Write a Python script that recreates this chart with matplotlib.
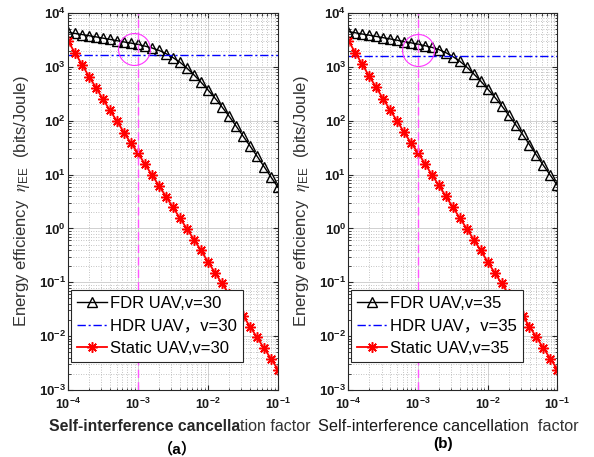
import numpy as np
import matplotlib
matplotlib.use("Agg")
import matplotlib.pyplot as plt
from matplotlib.ticker import LogLocator, NullFormatter

plt.rcParams['font.family'] = ['Liberation Sans', 'Noto Sans CJK SC']
plt.rcParams['mathtext.fontset'] = 'custom'
plt.rcParams['mathtext.rm'] = 'Liberation Sans'
plt.rcParams['mathtext.it'] = 'STIXGeneral:italic'
plt.rcParams['mathtext.bf'] = 'Liberation Sans:bold'

# 自干扰消除因子 (10^-4 ~ 10^-1, 每个数量级 10 个点)
beta = np.logspace(-4, -1, 31)

# v=30 的结果
fdr_v30 = [4365, 4170, 3980, 3785, 3600, 3410, 3235, 3060, 2900, 2755,
           2605, 2425, 2240, 2020, 1760, 1480, 1215, 944, 708, 519,
           372, 263, 180, 122, 80, 52, 34, 22, 14.1, 9.0, 5.8]
hdr_v30 = 1670
static_v30 = [3000, 1820, 1100, 660, 410, 250, 155, 98, 60, 38,
              25, 15.5, 9.8, 6.2, 3.9, 2.45, 1.55, 0.98, 0.62, 0.39,
              0.24, 0.151, 0.095, 0.060, 0.038, 0.024, 0.0151, 0.0095, 0.0060, 0.0038,
              0.0024]

# v=35 的结果
fdr_v35 = [4520, 4290, 4070, 3870, 3670, 3480, 3300, 3120, 2950, 2790,
           2630, 2470, 2300, 2090, 1830, 1550, 1270, 990, 740, 543,
           389, 275, 190, 128, 85, 56, 36, 23, 14.8, 9.7, 6.3]
hdr_v35 = 1590
static_v35 = [3050, 1840, 1110, 670, 415, 255, 157, 99, 61, 38.5,
              25.5, 15.8, 9.9, 6.3, 3.95, 2.48, 1.56, 0.99, 0.62, 0.39,
              0.24, 0.151, 0.095, 0.060, 0.038, 0.024, 0.0151, 0.0095, 0.0060, 0.0038,
              0.0024]

speeds = [30, 35]
sub_titles = ['（a）', '(b)']


def draw(ax, v, fdr, hdr, static, circle_xy):
    ax.plot(beta, fdr, color='k', lw=1.0, marker='^', ms=7, mfc='none',
            mec='k', mew=1.0, label='FDR UAV,v=%d' % v)
    ax.plot(beta, [hdr] * len(beta), color='#0000ff', lw=1.0,
            dashes=(6, 2, 1.5, 2), label='HDR UAV，v=%d' % v)
    ax.plot(beta, static, color='#ff0000', lw=1.3, marker=(8, 2, 0), ms=7.5,
            mew=1.1, label='Static UAV,v=%d' % v)

    # 标注 1e-3 处
    ax.axvline(1e-3, color='#ff55ff', lw=1.0, dashes=(6, 3))
    ax.plot([circle_xy[0]], [circle_xy[1]], marker='o', ms=23, mfc='none',
            mec='#ff33ff', mew=0.8)

    ax.set_xscale('log')
    ax.set_yscale('log')
    ax.set_xlim(1e-4, 1e-1)
    ax.set_ylim(1e-3, 1e4)
    ax.xaxis.set_major_locator(LogLocator(base=10, numticks=10))
    ax.yaxis.set_major_locator(LogLocator(base=10, numticks=12))
    ax.xaxis.set_minor_locator(LogLocator(base=10, subs=np.arange(2, 10), numticks=20))
    ax.yaxis.set_minor_locator(LogLocator(base=10, subs=np.arange(2, 10), numticks=20))
    ax.xaxis.set_minor_formatter(NullFormatter())
    ax.yaxis.set_minor_formatter(NullFormatter())

    ax.grid(which='major', color='#d0d0d0', lw=0.7, ls='-')
    ax.grid(which='minor', color='#b0b0b0', lw=0.6, ls=(0, (1, 2)))
    ax.set_axisbelow(True)
    ax.tick_params(which='both', direction='in', top=True, right=True,
                   colors='#262626', labelcolor='#1a1a1a')
    ax.tick_params(which='major', length=3.5)
    ax.tick_params(which='minor', length=1.8)
    ax.tick_params(axis='y', pad=1.5, labelsize=9.5)
    ax.tick_params(axis='x', pad=5, labelsize=9)
    for lab in ax.get_xticklabels() + ax.get_yticklabels():
        lab.set_fontweight('bold')
    for sp in ax.spines.values():
        sp.set_color('#262626')
        sp.set_linewidth(0.8)

    ax.set_ylabel(r'Energy efficiency  $\eta_{\rm EE}$  (bits/Joule)',
                  fontsize=12, color='#333333')
    ax.yaxis.set_label_coords(-0.172, 0.5)

    leg = ax.legend(loc='lower left', bbox_to_anchor=(0.014, 0.074),
                    borderaxespad=0, fontsize=12, numpoints=1,
                    handlelength=1.8, handletextpad=0.2, labelspacing=0.45,
                    borderpad=0.35, fancybox=False, framealpha=1,
                    edgecolor='#262626')
    leg.get_frame().set_linewidth(0.8)


fig = plt.figure(figsize=(5.94, 4.57), dpi=100)
ax1 = fig.add_axes([0.1145, 0.1466, 0.3535, 0.825])
ax2 = fig.add_axes([0.5864, 0.1466, 0.3519, 0.825])

draw(ax1, speeds[0], fdr_v30, hdr_v30, static_v30, (8.85e-4, 2150))
draw(ax2, speeds[1], fdr_v35, hdr_v35, static_v35, (9.9e-4, 2060))

# 横轴标题 (前半段加粗)
t1 = fig.text(49 / 594, 0.050, 'Self-interference cancella', fontsize=11.3,
              fontweight='bold', color='#262626', va='bottom')
ax1.annotate('tion factor', xy=(1, 0), xycoords=t1, fontsize=11.5,
             color='#333333', va='bottom', ha='left', annotation_clip=False)
t2 = fig.text(318 / 594, 0.050, 'Self-interference cancellati', fontsize=11.7,
              color='#1a1a1a', va='bottom')
ax2.annotate('on  factor', xy=(1, 0), xycoords=t2, fontsize=11.7,
             color='#333333', va='bottom', ha='left', annotation_clip=False)

fig.text(177 / 594, 1 - 449 / 457, sub_titles[0], fontsize=11,
         fontweight='bold', ha='center', va='center')
fig.text(443 / 594, 1 - 444 / 457, sub_titles[1], fontsize=11,
         fontweight='bold', ha='center', va='center')

fig.savefig('out.png', dpi=100)
